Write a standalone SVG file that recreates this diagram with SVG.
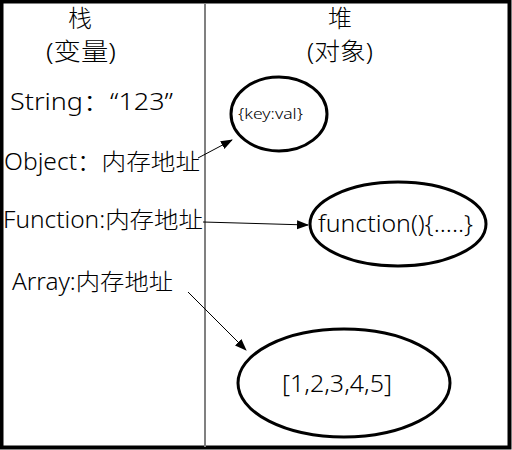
<svg xmlns="http://www.w3.org/2000/svg" width="512" height="450" viewBox="0 0 512 450">
<style>
text{font-family:"Noto Sans","Noto Sans CJK SC",sans-serif;fill:#000;font-weight:300}
.h{font-size:24px}
.l{font-size:23px}
.node{fill:#fff;stroke:#000;stroke-width:3}
.c{stroke:#000;stroke-width:1;fill:none;marker-end:url(#ah)}
</style>
<defs>
<marker id="ah" markerWidth="12" markerHeight="10" refX="11" refY="4.5" orient="auto" markerUnits="userSpaceOnUse">
<path d="M0,0 L12,4.5 L0,9 Z" fill="#000"/>
</marker>
</defs>
<rect x="0" y="0" width="512" height="450" fill="#fff"/>
<rect x="1.5" y="1.5" width="508" height="446" fill="none" stroke="#000" stroke-width="4"/>
<line x1="205" y1="3" x2="205" y2="447" stroke="#808080" stroke-width="2"/>
<g id="header-stack">
<text class="h" x="68" y="27" textLength="24" lengthAdjust="spacingAndGlyphs">栈</text>
<text class="h" x="46" y="60" textLength="70" lengthAdjust="spacingAndGlyphs">(变量)</text>
</g>
<g id="header-heap">
<text class="h" x="328" y="27" textLength="24" lengthAdjust="spacingAndGlyphs">堆</text>
<text class="h" x="307" y="60" textLength="66" lengthAdjust="spacingAndGlyphs">(对象)</text>
</g>
<g id="var-string"><text class="l" x="10" y="110" textLength="163" lengthAdjust="spacingAndGlyphs">String：“123”</text></g>
<g id="var-object"><text class="l" x="4" y="170" textLength="196" lengthAdjust="spacingAndGlyphs">Object：内存地址</text></g>
<g id="var-function"><text class="l" x="3" y="228" textLength="200" lengthAdjust="spacingAndGlyphs">Function:内存地址</text></g>
<g id="var-array"><text class="l" x="12" y="290" textLength="161" lengthAdjust="spacingAndGlyphs">Array:内存地址</text></g>
<g id="obj-keyval">
<ellipse class="node" cx="279" cy="114" rx="48" ry="37"/>
<text x="238" y="119" font-size="14" textLength="65" lengthAdjust="spacingAndGlyphs">{key:val}</text>
</g>
<g id="obj-function">
<ellipse class="node" cx="398" cy="224" rx="88" ry="42"/>
<text x="318" y="232" font-size="24" textLength="155" lengthAdjust="spacingAndGlyphs">function(){.....}</text>
</g>
<g id="obj-array">
<ellipse class="node" cx="344" cy="383" rx="106" ry="54"/>
<text x="282" y="392" font-size="24" textLength="110" lengthAdjust="spacingAndGlyphs">[1,2,3,4,5]</text>
</g>
<g id="connectors">
<path class="c" d="M198,158 L232,140"/>
<path class="c" d="M203,222 L308,225"/>
<path class="c" d="M188,292 L246,350"/>
</g>
</svg>
